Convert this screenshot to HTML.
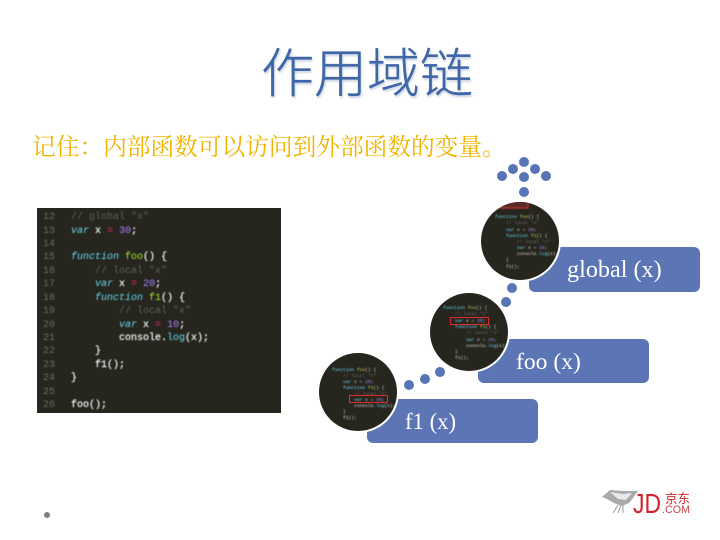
<!DOCTYPE html>
<html lang="zh">
<head>
<meta charset="utf-8">
<title>作用域链</title>
<style>
html,body{margin:0;padding:0;background:#fff}
#s{position:relative;width:720px;height:540px;overflow:hidden;background:#fff}
#s>*{position:absolute}
.t{left:0;width:734px;top:30px;text-align:center;font:300 53px/80px "Noto Sans CJK SC","Liberation Sans",sans-serif;color:#3f66a6;-webkit-text-stroke:.3px #3f66a6;text-shadow:1px 2px 2px rgba(90,120,170,.35);white-space:nowrap}
.y{left:32px;top:129px;font:23.7px/32px "Noto Serif CJK SC","Noto Sans CJK SC",serif;color:#f0b400;white-space:nowrap}
svg{left:0;top:0}
</style>
</head>
<body>
<div id="s">
<div class="t">作用域链</div>
<div class="y">记住：内部函数可以访问到外部函数的变量。</div>
<svg width="720" height="540" viewBox="0 0 720 540" xmlns="http://www.w3.org/2000/svg">
<defs>
<clipPath id="c1"><circle cx="520" cy="241" r="39"/></clipPath>
<clipPath id="c2"><circle cx="469" cy="332" r="39"/></clipPath>
<clipPath id="c3"><circle cx="358" cy="392" r="39"/></clipPath>
</defs>

<!-- code panel -->
<rect x="37" y="208" width="244" height="205" fill="#26261f"/>
<g font-family="Liberation Mono, monospace" font-size="10" style="filter:blur(.45px)">
<g fill="#6b6c63">
<text x="43" y="219">12</text><text x="43" y="233">13</text><text x="43" y="246">14</text><text x="43" y="259">15</text><text x="43" y="273">16</text><text x="43" y="286">17</text><text x="43" y="300">18</text><text x="43" y="313">19</text><text x="43" y="327">20</text><text x="43" y="340">21</text><text x="43" y="353">22</text><text x="43" y="367">23</text><text x="43" y="380">24</text><text x="43" y="394">25</text><text x="43" y="407">26</text>
</g>
<g fill="#fff" stroke="#fff" stroke-width=".15">
<text x="71" y="219" fill="#5f6058" stroke="none">// global "x"</text>
<text x="71" y="233"><tspan fill="#66d9ef" stroke="none" font-style="italic">var</tspan> x <tspan fill="#f92672" stroke="none">=</tspan> <tspan fill="#ae81ff" stroke="none">30</tspan>;</text>
<text x="71" y="259"><tspan fill="#66d9ef" stroke="none" font-style="italic">function</tspan> <tspan fill="#a6e22e" stroke="none">foo</tspan>() {</text>
<text x="95" y="273" fill="#5f6058" stroke="none">// local "x"</text>
<text x="95" y="286"><tspan fill="#66d9ef" stroke="none" font-style="italic">var</tspan> x <tspan fill="#f92672" stroke="none">=</tspan> <tspan fill="#ae81ff" stroke="none">20</tspan>;</text>
<text x="95" y="300"><tspan fill="#66d9ef" stroke="none" font-style="italic">function</tspan> <tspan fill="#a6e22e" stroke="none">f1</tspan>() {</text>
<text x="119" y="313" fill="#5f6058" stroke="none">// local "x"</text>
<text x="119" y="327"><tspan fill="#66d9ef" stroke="none" font-style="italic">var</tspan> x <tspan fill="#f92672" stroke="none">=</tspan> <tspan fill="#ae81ff" stroke="none">10</tspan>;</text>
<text x="119" y="340">console.<tspan fill="#66d9ef" stroke="none">log</tspan>(x);</text>
<text x="95" y="353">}</text>
<text x="95" y="367">f1();</text>
<text x="71" y="380">}</text>
<text x="71" y="407">foo();</text>
</g>
</g>

<!-- rounded bars -->
<rect x="529" y="247" width="171" height="45" rx="6" fill="#5b75b5"/>
<rect x="478" y="339" width="171" height="44" rx="6" fill="#5b75b5"/>
<rect x="367" y="399" width="171" height="44" rx="6" fill="#5b75b5"/>
<g font-family="Liberation Serif, serif" fill="#fff">
<text x="567" y="277" font-size="24.2">global (x)</text>
<text x="516" y="369" font-size="23.6">foo (x)</text>
<text x="405" y="429" font-size="22.7">f1 (x)</text>
</g>

<!-- dots -->
<g fill="#5674b6">
<circle cx="524" cy="162" r="5"/><circle cx="513" cy="169" r="5"/><circle cx="535" cy="169" r="5"/>
<circle cx="502" cy="176" r="5"/><circle cx="546" cy="176" r="5"/><circle cx="524" cy="177" r="5"/>
<circle cx="524" cy="192" r="5"/>
<circle cx="512" cy="288" r="5"/><circle cx="506" cy="302" r="5"/>
<circle cx="440" cy="372" r="5"/><circle cx="425" cy="379" r="5"/><circle cx="409" cy="385" r="5"/>
</g>

<!-- circles -->
<g fill="#fff"><circle cx="520" cy="241" r="41"/><circle cx="469" cy="332" r="41"/><circle cx="358" cy="392" r="41"/></g>
<g fill="#26261f"><circle cx="520" cy="241" r="39"/><circle cx="469" cy="332" r="39"/><circle cx="358" cy="392" r="39"/></g>

<g clip-path="url(#c1)">
<g font-family="Liberation Mono, monospace" font-size="4.6" fill="#d8d8ce" style="filter:blur(.4px)">
<rect x="495" y="200" width="33" height="8" fill="#5a2a26" stroke="#c8342e" stroke-width="1.2"/>
<text x="495" y="218"><tspan fill="#66d9ef">function</tspan> <tspan fill="#c8d84e">foo</tspan>() {</text>
<text x="506" y="224" fill="#6e6f66">// local "x"</text>
<text x="506" y="231"><tspan fill="#66d9ef">var</tspan> x = <tspan fill="#ae81ff">20</tspan>;</text>
<text x="506" y="237"><tspan fill="#66d9ef">function</tspan> <tspan fill="#c8d84e">f1</tspan>() {</text>
<text x="517" y="243" fill="#6e6f66">// local "x"</text>
<text x="517" y="249"><tspan fill="#66d9ef">var</tspan> x = <tspan fill="#ae81ff">10</tspan>;</text>
<text x="517" y="255">console.<tspan fill="#66d9ef">log</tspan>(x);</text>
<text x="506" y="261">}</text><text x="506" y="268">f1();</text>
</g></g>
<g clip-path="url(#c2)">
<g font-family="Liberation Mono, monospace" font-size="4.6" fill="#d8d8ce" style="filter:blur(.4px)">
<text x="443" y="309"><tspan fill="#66d9ef">function</tspan> <tspan fill="#c8d84e">foo</tspan>() {</text>
<text x="455" y="315" fill="#6e6f66">// local "x"</text>
<text x="455" y="322"><tspan fill="#66d9ef">var</tspan> x = <tspan fill="#ae81ff">20</tspan>;</text>
<text x="455" y="328"><tspan fill="#66d9ef">function</tspan> <tspan fill="#c8d84e">f1</tspan>() {</text>
<text x="466" y="334" fill="#6e6f66">// local "x"</text>
<text x="466" y="341"><tspan fill="#66d9ef">var</tspan> x = <tspan fill="#ae81ff">10</tspan>;</text>
<text x="466" y="347">console.<tspan fill="#66d9ef">log</tspan>(x);</text>
<text x="455" y="353">}</text><text x="455" y="359">f1();</text>
</g>
<rect x="450.5" y="317.5" width="38" height="7" fill="none" stroke="#d0302c" stroke-width="1.1"/>
</g>
<g clip-path="url(#c3)">
<g font-family="Liberation Mono, monospace" font-size="4.6" fill="#d8d8ce" style="filter:blur(.4px)">
<text x="332" y="371"><tspan fill="#66d9ef">function</tspan> <tspan fill="#c8d84e">foo</tspan>() {</text>
<text x="343" y="377" fill="#6e6f66">// local "x"</text>
<text x="343" y="383"><tspan fill="#66d9ef">var</tspan> x = <tspan fill="#ae81ff">20</tspan>;</text>
<text x="343" y="389"><tspan fill="#66d9ef">function</tspan> <tspan fill="#c8d84e">f1</tspan>() {</text>
<text x="354" y="395" fill="#6e6f66">// local "x"</text>
<text x="354" y="401"><tspan fill="#66d9ef">var</tspan> x = <tspan fill="#ae81ff">10</tspan>;</text>
<text x="354" y="407">console.<tspan fill="#66d9ef">log</tspan>(x);</text>
<text x="343" y="413">}</text><text x="343" y="419">f1();</text>
</g>
<rect x="349.5" y="395.5" width="38" height="7" fill="none" stroke="#d0302c" stroke-width="1.1"/>
</g>

<!-- bullet -->
<circle cx="47" cy="515" r="3" fill="#7f7f7f"/>

<!-- logo -->
<path d="M602 497 L610 490 L624 491 L638 491 L633 498 L629 503 L622 506 L614 503 L607 499 Z" fill="#a9a9a9"/>
<path d="M610 492 L623 494 L632 493 L626 500 L618 499 Z" fill="#e8e8e8"/>
<path d="M618 505 L613 513 M621 505 L618 513 M623 505 L623 513" stroke="#999" stroke-width="1" fill="none"/>
<text x="633" y="513" font-family="Liberation Sans, sans-serif" font-size="28" fill="#d2232a" textLength="28" lengthAdjust="spacingAndGlyphs">JD</text>
<text x="665" y="503" font-family="Noto Sans CJK SC, sans-serif" font-size="12.5" fill="#d2232a">京东</text>
<text x="662" y="513" font-family="Liberation Sans, sans-serif" font-size="11" fill="#c9454a" textLength="28" lengthAdjust="spacingAndGlyphs">.COM</text>
</svg>
</div>
</body>
</html>
